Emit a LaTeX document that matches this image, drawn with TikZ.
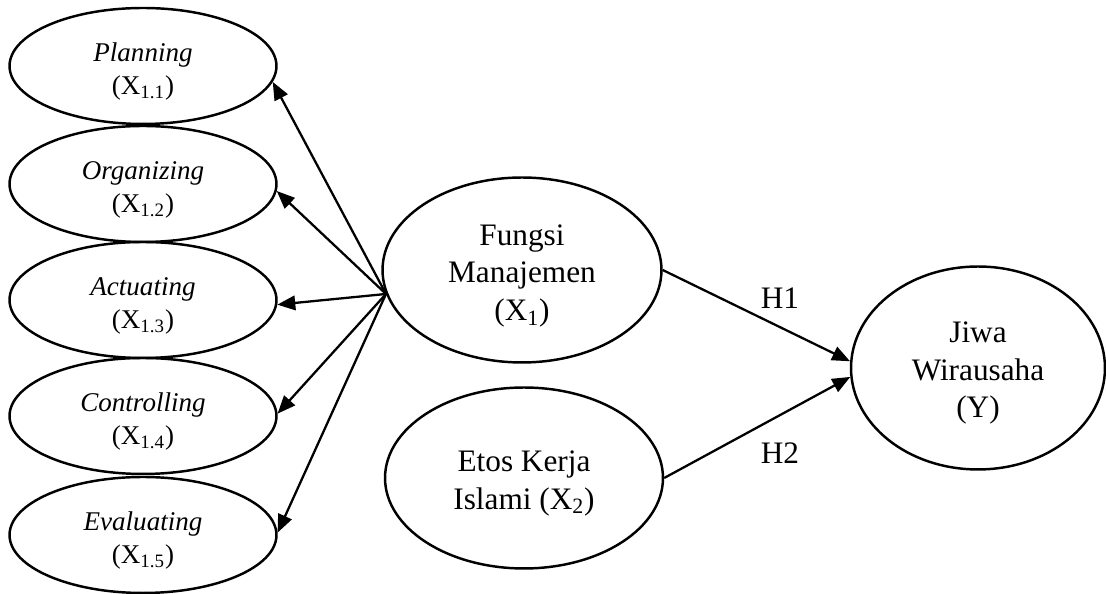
\documentclass[tikz,border=0pt]{standalone}
\usepackage{fontspec}
\setmainfont{Liberation Serif}
\usetikzlibrary{shapes.geometric,arrows.meta}
\newcommand{\topsp}[1]{\rule{0pt}{#1}}

\begin{document}
\begin{tikzpicture}[x=0.02cm,y=0.02cm,
    every node/.style={font=\fontsize{17.8}{21.5}\selectfont,align=center},
    dim/.style={ellipse,draw,line width=1.4pt,inner sep=0pt,
      minimum width=5.34cm,minimum height=2.32cm,font=\fontsize{15.4}{18.7}\selectfont},
    var/.style={ellipse,draw,line width=1.4pt,inner sep=0pt},
    arr/.style={line width=1.3pt,-{Triangle[length=0.36cm,width=0.29cm]}}]
  \useasboundingbox (0,0) rectangle (1106,594);
  % indikator fungsi manajemen
  \node[dim] (pl)  at (143,528) {\topsp{17pt}\textit{Planning}\\(X\textsubscript{1.1})};
  \node[dim] (org) at (143,410) {\topsp{17pt}\textit{Organizing}\\(X\textsubscript{1.2})};
  \node[dim] (act) at (143,294) {\topsp{17pt}\textit{Actuating}\\(X\textsubscript{1.3})};
  \node[dim] (ctl) at (143,178) {\topsp{17pt}\textit{Controlling}\\(X\textsubscript{1.4})};
  \node[dim] (eva) at (143,59)  {\topsp{17pt}\textit{Evaluating}\\(X\textsubscript{1.5})};
  % variabel
  \node[var,minimum width=5.58cm,minimum height=3.7cm] (fm) at (522,324)
    {\topsp{18.5pt}Fungsi\\Manajemen\\(X\textsubscript{1})};
  \node[var,minimum width=5.56cm,minimum height=3.62cm] (ek) at (524,116)
    {\topsp{18pt}Etos Kerja\\Islami (X\textsubscript{2})};
  \node[var,minimum width=5.08cm,minimum height=4.06cm] (jw) at (978,226)
    {\topsp{17.5pt}Jiwa\\Wirausaha\\(Y)};
  \draw[arr] (fm.190) -- (pl.-7);
  \draw[arr] (fm.190) -- (org.-3);
  \draw[arr] (fm.190) -- (act.-2);
  \draw[arr] (fm.190) -- (ctl.1);
  \draw[arr] (fm.190) -- (eva.1);
  \draw[arr] (fm.east) -- (jw.177);
  \draw[arr] (ek.east) -- (jw.184);
  \node (h1) at (780,296) {H1};
  \node (h2) at (780,141) {H2};
\end{tikzpicture}
\end{document}
